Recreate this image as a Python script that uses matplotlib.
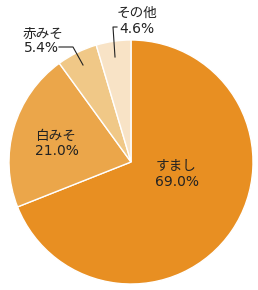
import matplotlib
matplotlib.use("Agg")
import matplotlib.pyplot as plt

plt.rcParams['font.family'] = ['DejaVu Sans', 'Noto Sans CJK JP']

categories = ["すまし", "白みそ", "赤みそ", "その他"]
values = [69.0, 21.0, 5.4, 4.6]
colors = ["#E88F22", "#EBA64A", "#F0C887", "#F8E3C6"]

W, H = 258, 290
fig = plt.figure(figsize=(W/100, H/100), dpi=100)
cx, cy, r = 131, 162, 122
ax = fig.add_axes([(cx - r)/W, 1 - (cy + r)/H, 2*r/W, 2*r/H])
ax.pie(values, colors=colors, startangle=90, counterclock=False,
       wedgeprops=dict(edgecolor="white", linewidth=1))
ax.set_xlim(-1, 1); ax.set_ylim(-1, 1)
ax.set_aspect('equal')

ov = fig.add_axes([0, 0, 1, 1]); ov.set_xlim(0, W); ov.set_ylim(H, 0); ov.axis('off')

name_pos = [(176, 166), (55, 136), (43, 33.5), (137, 13)]
pct_pos = [(177, 182), (57, 151), (41, 48.5), (137, 29)]
tc = '#222222'
for (nx, ny), (px, py), c, v in zip(name_pos, pct_pos, categories, values):
    ov.text(nx, ny, c, ha='center', va='center', fontsize=9.8, color=tc,
            family=['Noto Sans CJK JP', 'DejaVu Sans'])
    ov.text(px, py, f"{v:.1f}%", ha='center', va='center', fontsize=10,
            color=tc, family=['DejaVu Sans'])

# leader lines
ov.plot([59, 73, 83], [47, 47, 65], color=tc, lw=0.8)
ov.plot([117, 113, 115], [27, 27, 57], color=tc, lw=0.8)

fig.savefig("out.png", dpi=100)
